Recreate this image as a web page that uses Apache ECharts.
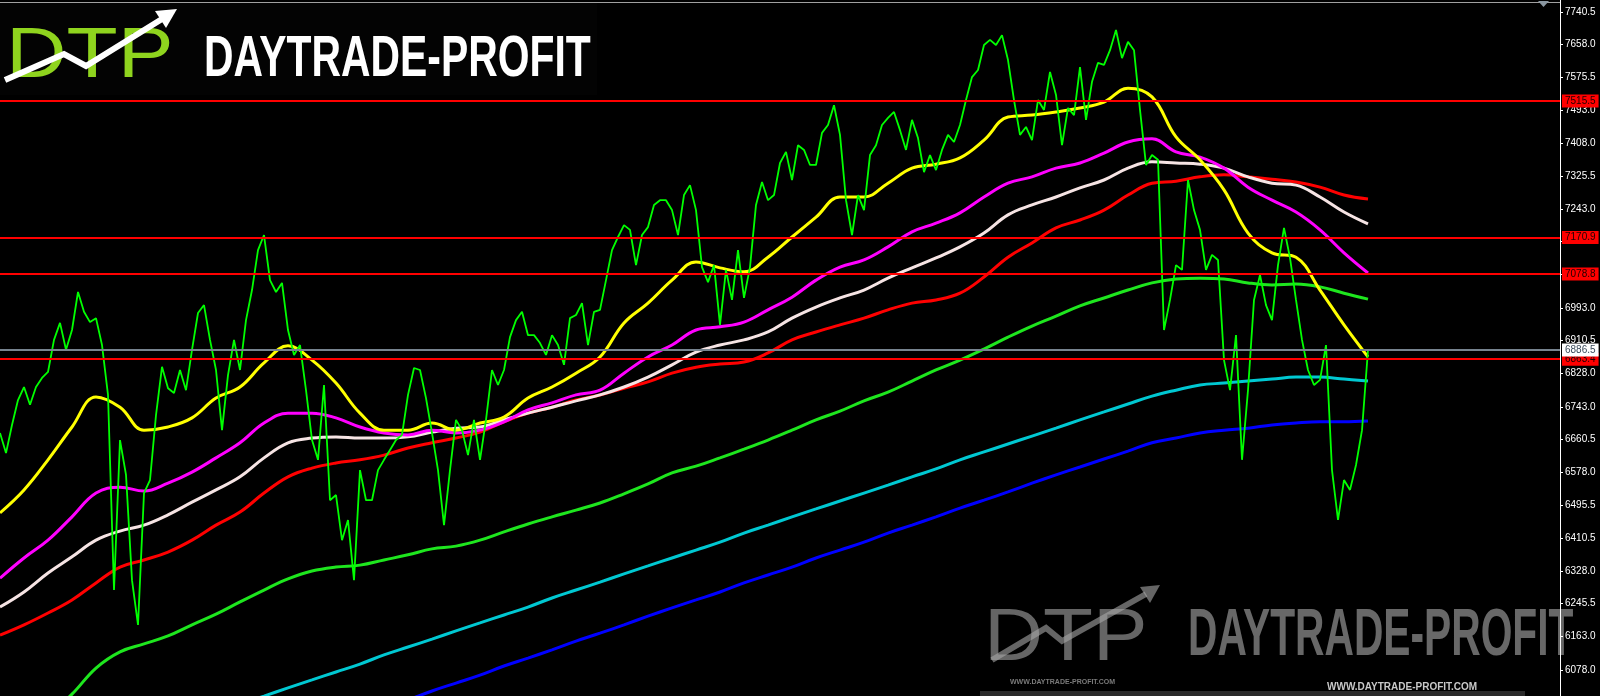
<!DOCTYPE html>
<html>
<head>
<meta charset="utf-8">
<script src="https://cdn.jsdelivr.net/npm/echarts@6/dist/echarts.min.js"></script>
<style>
html,body{margin:0;padding:0;background:#000;}
#chart{width:1600px;height:696px;}
</style>
</head>
<body>
<div id="chart"></div>
<script>
// ---- data ----
const priceBarsTotal = 261;   // bar slots across the plot (price bars + empty right margin)
const maSlotsTotal = 66;      // MA sample slots across the plot

// closing price path (green)
const price = [6677,6626,6697,6760,6793,6748,6793,6816,6831,6912,
 6955,6887,6937,7033,6983,6957,6967,6899,6773,6280,
 6659,6571,6305,6192,6525,6558,6722,6844,6790,6778,
 6836,6785,6887,6980,7000,6912,6836,6684,6823,6912,
 6836,6962,7038,7139,7177,7063,7033,7056,6937,6874,
 6899,6785,6659,6609,6798,6507,6520,6406,6457,6305,
 6583,6507,6507,6583,6609,6634,6659,6672,6773,6841,
 6836,6765,6677,6583,6444,6583,6710,6684,6621,6710,
 6609,6710,6836,6798,6836,6919,6962,6983,6924,6924,
 6904,6874,6924,6899,6849,6967,6975,7005,6899,6983,
 6988,7063,7139,7172,7202,7190,7101,7177,7197,7253,
 7265,7265,7240,7177,7278,7303,7240,7096,7058,7101,
 6950,7089,7013,7139,7018,7096,7253,7311,7265,7278,
 7359,7387,7316,7404,7392,7354,7354,7435,7455,7505,
 7430,7265,7177,7278,7240,7379,7404,7455,7473,7488,
 7442,7392,7468,7422,7336,7379,7341,7392,7430,7412,
 7455,7518,7576,7594,7657,7670,7657,7682,7619,7518,
 7430,7450,7417,7518,7493,7589,7531,7404,7498,7480,
 7601,7468,7564,7612,7607,7644,7695,7624,7665,7644,
 7493,7354,7379,7367,6937,7013,7101,7089,7316,7240,
 7190,7089,7127,7114,6861,6785,6924,6609,6785,7013,
 7076,7000,6962,7101,7195,7119,7013,6912,6836,6798,
 6811,6899,6583,6457,6558,6533,6596,6684,6886.5];

// moving averages (sampled every MA slot)
const maYellow = [6475,6533,6609,6692,6768,6742,6684,6692,6715,6765,
 6793,6854,6897,6861,6803,6727,6684,6684,6702,6684,
 6702,6717,6765,6793,6828,6869,6955,7005,7063,7109,
 7094,7084,7121,7172,7222,7273,7273,7308,7346,7356,
 7372,7417,7475,7480,7488,7498,7513,7548,7526,7425,
 7367,7291,7182,7132,7121,7038,6950,6869];
const maMagenta = [6310,6361,6406,6465,6525,6540,6530,6550,6578,6614,
 6652,6702,6727,6727,6715,6692,6677,6672,6684,6677,
 6684,6705,6735,6753,6773,6785,6828,6869,6899,6937,
 6945,6957,6988,7020,7063,7096,7114,7147,7185,7207,
 7233,7273,7308,7324,7346,7359,7384,7412,7420,7387,
 7374,7346,7298,7265,7235,7190,7132,7081];
const maWhite = [6237,6275,6323,6364,6406,6429,6444,6470,6502,6533,
 6566,6614,6652,6664,6667,6664,6664,6667,6679,6689,
 6692,6710,6727,6742,6758,6773,6793,6818,6849,6881,
 6899,6912,6932,6967,6995,7018,7038,7068,7094,7119,
 7147,7182,7228,7253,7273,7296,7316,7346,7362,7359,
 7356,7346,7324,7308,7303,7273,7235,7205];
const maRed = [6166,6192,6222,6255,6298,6338,6356,6376,6406,6444,
 6477,6525,6566,6588,6601,6609,6621,6639,6652,6664,
 6679,6705,6727,6742,6760,6773,6790,6806,6828,6843,
 6851,6856,6879,6912,6932,6950,6967,6988,7005,7013,
 7030,7071,7121,7157,7195,7215,7240,7278,7308,7313,
 7324,7329,7324,7318,7311,7298,7278,7268];
const maGreen = [null,null,5962,6017,6083,6124,6144,6164,6192,6219,
 6250,6280,6308,6328,6338,6343,6356,6369,6384,6391,
 6406,6427,6447,6465,6482,6500,6523,6548,6576,6593,
 6614,6636,6659,6684,6710,6732,6758,6780,6808,6836,
 6861,6889,6919,6947,6972,6998,7018,7038,7056,7066,
 7068,7066,7056,7051,7053,7046,7030,7015];
const maCyan = [null,null,null,null,null,null,null,null,null,null,
 5992,6012,6033,6053,6073,6093,6116,6136,6156,6177,
 6197,6217,6237,6260,6280,6300,6321,6341,6361,6381,
 6401,6424,6444,6465,6485,6505,6525,6545,6566,6586,
 6609,6629,6649,6669,6689,6710,6730,6750,6770,6785,
 6798,6803,6808,6813,6818,6818,6813,6808];
const maBlue = [null,null,null,null,null,null,null,null,null,null,
 null,null,null,null,null,null,null,6002,6025,6045,
 6065,6088,6108,6129,6151,6171,6192,6214,6235,6255,
 6275,6298,6318,6338,6361,6381,6401,6424,6444,6465,
 6487,6507,6528,6550,6571,6591,6611,6631,6652,6664,
 6677,6684,6689,6697,6702,6705,6705,6707];

// price scale tick labels
const yTicks = [7740.5,7658.0,7575.5,7493.0,7408.0,7325.5,7243.0,7160.5,7078.0,6993.0,
 6910.5,6828.0,6743.0,6660.5,6578.0,6495.5,6410.5,6328.0,6245.5,6163.0,6078.0];
const yMin = 6012.3, yMax = 7770.8;

// horizontal levels
const redLevels = [7515.5, 7170.9, 7078.8, 6863.4];
const currentPrice = 6886.5;

// category slots
const barCats = [];
for (let i = 0; i < priceBarsTotal; i++) barCats.push(String(i));
const maCats = [];
for (let i = 0; i < maSlotsTotal; i++) maCats.push(String(i));

// ---- chart ----
const chart = echarts.init(document.getElementById('chart'), null, {renderer:'canvas'});

function maSeries(name, data, color, z) {
  return {
    name, type:'line', xAxisIndex:1, yAxisIndex:0, data,
    smooth:0.4, showSymbol:false, symbol:'none', connectNulls:false,
    lineStyle:{color, width:3}, z, silent:true, animation:false, clip:true
  };
}

const labelFont = 'Liberation Sans, Arial, sans-serif';

const option = {
  backgroundColor:'#000000',
  animation:false,
  grid:{left:0, right:40, top:0, bottom:0, containLabel:false},
  xAxis:[
    {type:'category', data:barCats, boundaryGap:false, show:false},
    {type:'category', data:maCats, boundaryGap:false, show:false}
  ],
  yAxis:[{
    type:'value', position:'right', min:yMin, max:yMax,
    axisLine:{show:true, onZero:false, lineStyle:{color:'#ffffff', width:1}},
    axisTick:{show:true, customValues:yTicks, length:3, lineStyle:{color:'#ffffff'}},
    axisLabel:{show:true, customValues:yTicks, formatter:v=>Number(v).toFixed(1),
      color:'#ffffff', fontSize:10, fontFamily:labelFont, margin:5},
    splitLine:{show:false}
  }],
  series:[
    {
      name:'levels', type:'line', data:[], z:4, silent:true,
      markLine:{
        symbol:['none','none'], silent:true, animation:false,
        data:[
          ...redLevels.map(v=>({yAxis:v, lineStyle:{color:'#ff0000', width:2, type:'solid'},
            label:{show:true, position:'end', formatter:()=>v.toFixed(1), backgroundColor:'#ff0000',
              color:'#200000', fontSize:10, fontFamily:labelFont, padding:[2,3,1,3], distance:2}})),
          {yAxis:currentPrice, lineStyle:{color:'#76838f', width:2, type:'solid'},
            label:{show:true, position:'end', formatter:()=>currentPrice.toFixed(1), backgroundColor:'#ffffff',
              color:'#3a4a5a', fontSize:10, fontFamily:labelFont, padding:[2,3,1,3], distance:2}}
        ]
      }
    },
    maSeries('MA blue', maBlue, '#0000ff', 2),
    maSeries('MA cyan', maCyan, '#00c8d2', 2),
    maSeries('MA green', maGreen, '#1ee61e', 2),
    maSeries('MA red', maRed, '#ff0000', 2),
    maSeries('MA white', maWhite, '#f6e4e4', 2),
    maSeries('MA magenta', maMagenta, '#ff00ff', 2),
    maSeries('MA yellow', maYellow, '#ffff00', 2),
    {
      name:'price', type:'line', xAxisIndex:0, yAxisIndex:0, data:price,
      showSymbol:false, symbol:'none', lineStyle:{color:'#00ff00', width:1.8},
      z:3, silent:true, animation:false
    }
  ],
  graphic:{elements:[
    // top frame line
    {type:'line', shape:{x1:0,y1:2.5,x2:1560,y2:2.5}, style:{stroke:'#a0a0a0', lineWidth:1}, z:50},
    // shift marker
    {type:'polygon', shape:{points:[[1538,1],[1549,1],[1543.5,7]]}, style:{fill:'#8a96a0'}, z:50},
    // top-left logo panel
    {type:'rect', shape:{x:0,y:3,width:597,height:92}, style:{fill:'#030303'}, z:50},
    {type:'group', z:51, children:[
      {type:'line', shape:{x1:8,y1:6,x2:8,y2:94}, style:{stroke:'#262626', lineWidth:1}},
      {type:'line', shape:{x1:65,y1:6,x2:65,y2:94}, style:{stroke:'#262626', lineWidth:1}},
      {type:'line', shape:{x1:122,y1:6,x2:122,y2:94}, style:{stroke:'#262626', lineWidth:1}},
      {type:'line', shape:{x1:0,y1:30,x2:185,y2:30}, style:{stroke:'#262626', lineWidth:1}},
      {type:'line', shape:{x1:0,y1:62,x2:185,y2:62}, style:{stroke:'#262626', lineWidth:1}}
    ]},
    {type:'text', x:6, y:57, scaleX:1.18, z:52,
      style:{text:'DTP', fill:'#8fd41e', font:'normal 71px "Liberation Sans", Arial, sans-serif',
        textAlign:'left', textVerticalAlign:'middle', align:'left', verticalAlign:'middle'}},
    {type:'polyline', z:53, shape:{points:[[5,80],[64,54],[86,66],[162,19]]},
      style:{stroke:'#ffffff', lineWidth:6, fill:null, lineJoin:'miter'}},
    {type:'polygon', z:53, shape:{points:[[177,9],[166,28],[155,11]]}, style:{fill:'#ffffff'}},
    {type:'text', x:204, y:60, scaleX:0.717, z:52,
      style:{text:'DAYTRADE-PROFIT', fill:'#ffffff', font:'bold 57px "Liberation Sans", Arial, sans-serif',
        textAlign:'left', textVerticalAlign:'middle', align:'left', verticalAlign:'middle'}},

    // bottom-right watermark
    {type:'group', z:60, children:[
      {type:'text', x:984, y:639, scaleX:1.09,
        style:{text:'DTP', fill:'#a8a8a8', opacity:0.6, font:'normal 75px "Liberation Sans", Arial, sans-serif',
          textAlign:'left', textVerticalAlign:'middle', align:'left', verticalAlign:'middle'}},
      {type:'polyline', shape:{points:[[992,660],[1046,628],[1062,641],[1146,594]]},
        style:{stroke:'#a8a8a8', opacity:0.6, lineWidth:6, fill:null}},
      {type:'polygon', shape:{points:[[1160,585],[1150,603],[1140,587]]}, style:{fill:'#a8a8a8', opacity:0.6}},
      {type:'text', x:1188, y:637, scaleX:0.617,
        style:{text:'DAYTRADE-PROFIT', fill:'#a8a8a8', opacity:0.62, font:'bold 66px "Liberation Sans", Arial, sans-serif',
          textAlign:'left', textVerticalAlign:'middle', align:'left', verticalAlign:'middle'}},
      {type:'text', x:1010, y:682,
        style:{text:'WWW.DAYTRADE-PROFIT.COM', fill:'#7a7a7a', font:'bold 7px "Liberation Sans", Arial, sans-serif',
          textAlign:'left', textVerticalAlign:'middle', align:'left', verticalAlign:'middle'}},
      {type:'rect', shape:{x:980,y:691,width:545,height:5}, style:{fill:'#2a2a2a'}},
      {type:'text', x:1327, y:687,
        style:{text:'WWW.DAYTRADE-PROFIT.COM', fill:'#c8c8c8', font:'bold 10px "Liberation Sans", Arial, sans-serif',
          textAlign:'left', textVerticalAlign:'middle', align:'left', verticalAlign:'middle'}}
    ]}
  ]}
};
chart.setOption(option);
</script>
</body>
</html>
